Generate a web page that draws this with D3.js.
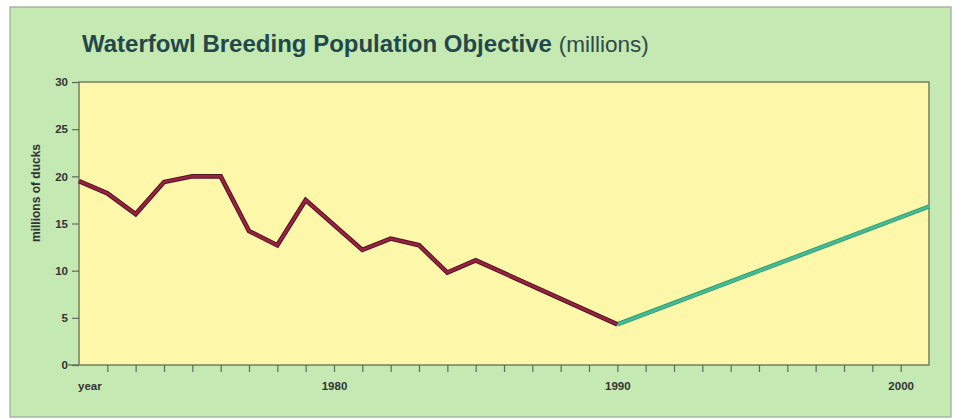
<!DOCTYPE html>
<html>
<head>
<meta charset="utf-8">
<script src="https://cdn.jsdelivr.net/npm/d3@7"></script>
<style>
  body { margin: 0; background: #fff; }
  svg { display: block; font-family: "Liberation Sans", Arial, sans-serif; }
</style>
</head>
<body>
<svg id="chart" width="959" height="419"></svg>
<script>
// breeding population, millions of ducks
var breedYears  = [1971, 1972, 1973, 1974, 1975, 1976, 1977, 1978, 1979, 1981, 1982, 1983, 1984, 1985, 1990];
var breedValues = [19.5, 18.2, 16.0, 19.4, 20.0, 20.0, 14.2, 12.7, 17.5, 12.2, 13.4, 12.7, 9.8, 11.1, 4.3];
// objective line
var objYears  = [1990, 2001];
var objValues = [4.3, 16.8];
var yTicks = [0, 5, 10, 15, 20, 25, 30];
var xLabelYears = [1980, 1990, 2000];

var svg = d3.select("#chart");
var plotLeft = 79, plotRight = 929, plotTop = 82, plotBottom = 365;

// panel
svg.append("rect")
    .attr("x", 10).attr("y", 7)
    .attr("width", 941).attr("height", 410)
    .attr("fill", "#c4e9b3")
    .attr("stroke", "#9aa894").attr("stroke-width", 1.2);

// title
var title = svg.append("text")
    .attr("x", 82).attr("y", 52)
    .attr("fill", "#24474a");
title.append("tspan")
    .attr("font-weight", "bold").attr("font-size", 24)
    .text("Waterfowl Breeding Population Objective");
title.append("tspan")
    .attr("font-size", 22.5).attr("fill", "#2f4a4a")
    .attr("dx", 7)
    .text("(millions)");

// plot area
svg.append("rect")
    .attr("x", plotLeft).attr("y", plotTop)
    .attr("width", plotRight - plotLeft).attr("height", plotBottom - plotTop)
    .attr("fill", "#fdf7a9")
    .attr("stroke", "#76805e").attr("stroke-width", 1.5);

var x = d3.scaleLinear().domain([1971, 2001]).range([plotLeft, plotRight]);
var y = d3.scaleLinear().domain([0, 30]).range([plotBottom, plotTop]);

// y axis
var yAxis = d3.axisLeft(y).tickValues(yTicks).tickSize(7).tickPadding(4);
var gy = svg.append("g")
    .attr("transform", "translate(" + plotLeft + ",0)")
    .call(yAxis);
gy.select(".domain").remove();
gy.selectAll("line").attr("stroke", "#5e6a58").attr("stroke-width", 1.2);
gy.selectAll("text")
    .attr("font-size", 11.5).attr("font-weight", "bold")
    .attr("font-family", "Liberation Sans, Arial, sans-serif")
    .attr("fill", "#333");
// short extension of the baseline to the left
svg.append("line")
    .attr("x1", 68).attr("x2", plotLeft)
    .attr("y1", plotBottom).attr("y2", plotBottom)
    .attr("stroke", "#5e6a58").attr("stroke-width", 1.2);

// x axis
var xAxis = d3.axisBottom(x)
    .tickValues(d3.range(1972, 2001))
    .tickSize(7).tickPadding(10)
    .tickFormat(function(d) { return xLabelYears.indexOf(d) >= 0 ? d : ""; });
var gx = svg.append("g")
    .attr("transform", "translate(0," + plotBottom + ")")
    .call(xAxis);
gx.select(".domain").remove();
gx.selectAll("line").attr("stroke", "#5e6a58").attr("stroke-width", 1.2);
gx.selectAll("text")
    .attr("font-size", 11.5).attr("font-weight", "bold")
    .attr("font-family", "Liberation Sans, Arial, sans-serif")
    .attr("fill", "#333");

svg.append("text")
    .attr("x", 78).attr("y", 390)
    .attr("font-size", 11.5).attr("font-weight", "bold")
    .attr("fill", "#333")
    .text("year");

svg.append("text")
    .attr("transform", "translate(40,193) rotate(-90)")
    .attr("text-anchor", "middle")
    .attr("font-size", 12).attr("font-weight", "bold")
    .attr("fill", "#333")
    .text("millions of ducks");

// lines
var line = d3.line()
    .x(function(d) { return x(d[0]); })
    .y(function(d) { return y(d[1]); });

var breed = d3.zip(breedYears, breedValues);
var obj = d3.zip(objYears, objValues);

svg.append("path").datum(obj)
    .attr("d", line).attr("fill", "none")
    .attr("stroke", "#2f9a78").attr("stroke-width", 4.5);
svg.append("path").datum(obj)
    .attr("d", line).attr("fill", "none")
    .attr("stroke", "#44bb92").attr("stroke-width", 2.8);

svg.append("path").datum(breed)
    .attr("d", line).attr("fill", "none")
    .attr("stroke", "#4d1424").attr("stroke-width", 4.6)
    .attr("stroke-linejoin", "miter");
svg.append("path").datum(breed)
    .attr("d", line).attr("fill", "none")
    .attr("stroke", "#9a2240").attr("stroke-width", 2.6)
    .attr("stroke-linejoin", "miter");
</script>
</body>
</html>
